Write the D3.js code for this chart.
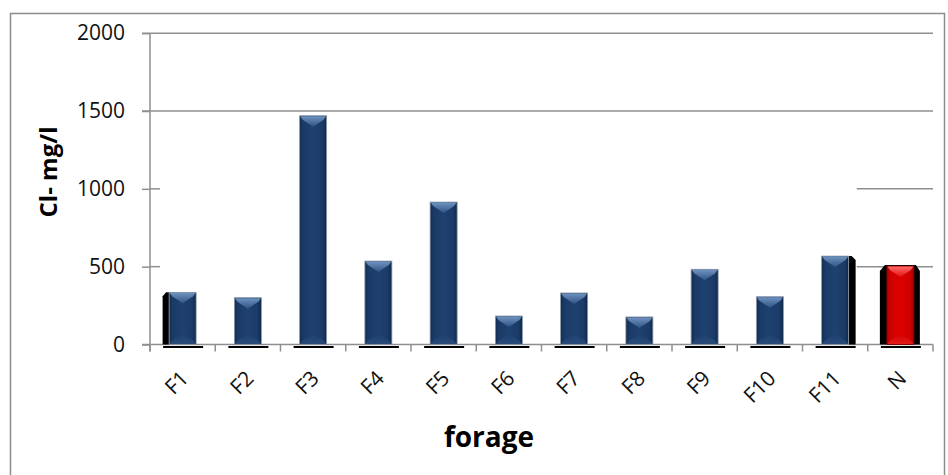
<!DOCTYPE html>
<html><head><meta charset="utf-8">
<script src="https://cdn.jsdelivr.net/npm/d3@7"></script>
<style>html,body{margin:0;padding:0;background:#fff;}svg{display:block;}</style>
</head><body>
<svg id="chart" width="948" height="475"></svg>
<script>
const categories = ["F1","F2","F3","F4","F5","F6","F7","F8","F9","F10","F11","N"];
const values = [335, 301, 1470, 536, 915, 183, 331, 177, 483, 307, 568, 504];
const yTicks = [0, 500, 1000, 1500, 2000];
const fullGrid = [1500, 2000];
const partialGrid = [500, 1000];
const yTitle = "Cl- mg/l";
const xTitle = "forage";

const svg = d3.select("#chart");
const plotL = 150, plotR = 933, plotT = 33.2, plotB = 344.5;
const FONT = "'Open Sans', 'Noto Sans', sans-serif";

const defs = svg.append("defs");
function grad(id, stops, horiz) {
  const gr = defs.append("linearGradient").attr("id", id)
    .attr("x1", 0).attr("y1", 0).attr("x2", horiz ? 1 : 0).attr("y2", horiz ? 0 : 1);
  stops.forEach(s => gr.append("stop").attr("offset", s[0]).attr("stop-color", s[1]));
}
grad("bodyBlue", [[0, "#132d52"], [0.15, "#1b3b67"], [0.5, "#1f416f"], [0.85, "#1b3b67"], [1, "#102848"]], true);
grad("bevBlue", [[0, "#6f92bf"], [1, "#2e5486"]], false);
grad("botBlue", [[0, "#1f416f"], [1, "#2b4f7e"]], false);
grad("bodyRed", [[0, "#b00000"], [0.15, "#d00000"], [0.5, "#dc0000"], [0.85, "#d00000"], [1, "#a80000"]], true);
grad("bevRed", [[0, "#ff6a6a"], [1, "#e01010"]], false);
grad("botRed", [[0, "#d40000"], [1, "#e62020"]], false);

// outer frame
svg.append("rect").attr("x", 10.5).attr("y", 13.5).attr("width", 934).attr("height", 480)
  .attr("fill", "#fff").attr("stroke", "#8c8c8c").attr("stroke-width", 1.5);

const x = d3.scaleBand().domain(categories).range([plotL, plotR])
  .paddingInner(0.586).paddingOuter(0.293);
const y = d3.scaleLinear().domain([0, 2000]).range([plotB, plotT]);
const step = x.step();

// gridlines
const gridColor = "#8f8f8f";
svg.append("g").selectAll("line").data(fullGrid).join("line")
  .attr("x1", plotL - 8).attr("x2", plotR).attr("y1", d => y(d)).attr("y2", d => y(d))
  .attr("stroke", gridColor).attr("stroke-width", 1.5);
const lastStart = plotL + step * (categories.length - 1) - 11;
svg.append("g").selectAll("line").data(partialGrid).join("line")
  .attr("x1", lastStart).attr("x2", plotR).attr("y1", d => y(d)).attr("y2", d => y(d))
  .attr("stroke", gridColor).attr("stroke-width", 1.5);
svg.append("g").selectAll("line").data(partialGrid).join("line")
  .attr("x1", plotL).attr("x2", plotL + 10).attr("y1", d => y(d)).attr("y2", d => y(d))
  .attr("stroke", gridColor).attr("stroke-width", 1.5);

// y axis
const yAxis = d3.axisLeft(y).tickValues(yTicks).tickSize(8).tickPadding(17).tickFormat(d3.format("d"));
const gy = svg.append("g").attr("transform", `translate(${plotL},0)`).call(yAxis);
gy.select(".domain").remove();
gy.selectAll(".tick line").attr("stroke", gridColor).attr("stroke-width", 1.5);
gy.selectAll(".tick text").attr("font-family", FONT).attr("font-size", 21).attr("fill", "#111");
svg.append("line").attr("x1", plotL).attr("x2", plotL).attr("y1", plotT).attr("y2", plotB + 7)
  .attr("stroke", gridColor).attr("stroke-width", 1.5);

// x axis line and boundary ticks
svg.append("line").attr("x1", plotL - 8).attr("x2", plotR).attr("y1", plotB).attr("y2", plotB)
  .attr("stroke", gridColor).attr("stroke-width", 1.5);
const bounds = d3.range(categories.length + 1).map(i => plotL + i * step);
svg.append("g").selectAll("line").data(bounds).join("line")
  .attr("x1", d => d).attr("x2", d => d).attr("y1", plotB).attr("y2", plotB + 7)
  .attr("stroke", gridColor).attr("stroke-width", 1.5);

// bars
const bw = x.bandwidth();
const gb = svg.append("g");
categories.forEach((c, i) => {
  const bx = x(c), by = y(values[i]), bh = plotB - by;
  const red = c === "N";
  gb.append("line").attr("x1", bx - 6).attr("x2", bx + bw + 7)
    .attr("y1", plotB + 2.5).attr("y2", plotB + 2.5).attr("stroke", "#000").attr("stroke-width", 2);
  if (c === "F1") {
    gb.append("path").attr("d", `M${bx - 6.5},${by + 4} L${bx - 3},${by} L${bx},${by} L${bx},${plotB} L${bx - 6.5},${plotB} Z`).attr("fill", "#000");
  }
  if (c === "F11") {
    gb.append("path").attr("d", `M${bx + bw},${by} L${bx + bw + 3},${by} L${bx + bw + 7},${by + 4} L${bx + bw + 7},${plotB} L${bx + bw},${plotB} Z`).attr("fill", "#000");
  }
  if (red) {
    gb.append("path").attr("d", `M${bx - 7},${by + 5} L${bx - 2},${by - 1} L${bx + bw + 2},${by - 1} L${bx + bw + 6},${by + 5} L${bx + bw + 6},${plotB} L${bx - 7},${plotB} Z`).attr("fill", "#000");
  }
  gb.append("rect").attr("x", bx).attr("y", by).attr("width", bw).attr("height", bh)
    .attr("fill", red ? "url(#bodyRed)" : "url(#bodyBlue)")
    .attr("stroke", red ? "#7a0000" : "#8e9aab").attr("stroke-width", 0.8);
  const bev = Math.min(11, bh / 2);
  gb.append("path").attr("d", `M${bx + 0.5},${by + 0.5} L${bx + bw - 0.5},${by + 0.5} L${bx + bw - 3},${by + 4} L${bx + bw / 2},${by + bev} L${bx + 3},${by + 4} Z`)
    .attr("fill", red ? "url(#bevRed)" : "url(#bevBlue)");
  gb.append("path").attr("d", `M${bx + 0.5},${plotB - 0.5} L${bx + bw - 0.5},${plotB - 0.5} L${bx + bw - 3},${plotB - 4} L${bx + bw / 2},${plotB - 10} L${bx + 3},${plotB - 4} Z`)
    .attr("fill", red ? "url(#botRed)" : "url(#botBlue)").attr("opacity", 0.8);
});

// x tick labels
svg.append("g").selectAll("text").data(categories).join("text")
  .attr("transform", d => `translate(${x(d) + bw / 2 + 2},${plotB + 30}) rotate(-45)`)
  .attr("text-anchor", "end").attr("dy", "0.35em")
  .attr("font-family", FONT).attr("font-size", 21).attr("fill", "#111")
  .text(d => d);

// titles
svg.append("text").attr("x", 489).attr("y", 447).attr("text-anchor", "middle")
  .attr("font-family", FONT).attr("font-weight", "bold").attr("font-size", 28).attr("fill", "#000")
  .text(xTitle);
svg.append("text").attr("transform", "translate(57,172) rotate(-90)").attr("text-anchor", "middle")
  .attr("font-family", FONT).attr("font-weight", "bold").attr("font-size", 24).attr("fill", "#000")
  .text(yTitle);
</script>
</body></html>
